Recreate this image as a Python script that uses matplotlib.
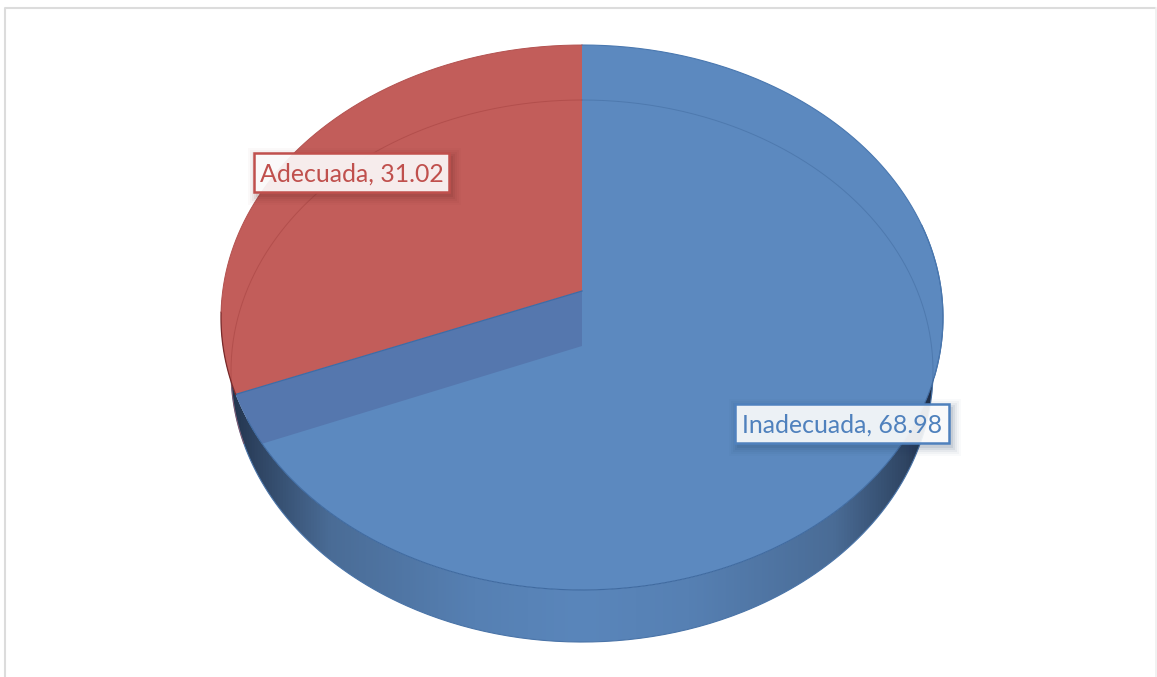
import numpy as np
import matplotlib
matplotlib.use("Agg")
import matplotlib.pyplot as plt
from matplotlib.colors import LinearSegmentedColormap
from matplotlib.patches import Polygon, Rectangle

# Pie values
categories = ["Inadecuada", "Adecuada"]
values = [68.98, 31.02]

WIDTH, HEIGHT = 1157, 677
BLUE = "#5C89BF"
RED = "#C25D5A"
WALL = "#5577AE"

fig = plt.figure(figsize=(WIDTH / 100, HEIGHT / 100), dpi=100)
ax = fig.add_axes([0, 0, 1, 1])
ax.set_xlim(0, WIDTH)
ax.set_ylim(HEIGHT, 0)
ax.axis("off")

# Outer frame (no bottom edge)
ax.plot([5, 5, 1155], [HEIGHT, 8, 8], color="#DCDCDC", lw=1.5)
ax.plot([1156, 1156], [8, HEIGHT], color="#EFEFEF", lw=1.2)


# Perspective projection of a disc; angle is clockwise from 12 o'clock
def project(angle, cy, a, b, k):
    u = np.sin(angle)
    v = np.cos(angle)
    return np.column_stack([582 + b * u / (1 + k * v), cy - a * v / (1 + k * v)])


def top_disc(angle):
    return project(angle, 291, 269.9, 359.3, 0.0972)


def low_disc(angle):
    return project(angle, 346, 268.7, 349.5, 0.0923)


circle = np.linspace(0, 2 * np.pi, 721)
split = 2 * np.pi * values[0] / sum(values)

blue_arc = np.linspace(0, split, 500)
red_arc = np.linspace(split, 2 * np.pi, 300)
top_centre = np.array([[582, 291]])
low_centre = np.array([[582, 346]])

# Side wall: horizontal shading clipped to the silhouette of both discs
front = np.linspace(np.pi / 2, 3 * np.pi / 2, 300)
side_outline = np.vstack([top_disc(front), low_disc(front[::-1])])
side_cmap = LinearSegmentedColormap.from_list(
    "side",
    [(0, "#1f2f47"), (0.05, "#2f4563"), (0.15, "#4a6c96"), (0.35, "#5680b3"), (0.5, "#5A86BB"),
     (0.65, "#5680b3"), (0.85, "#4a6c96"), (0.95, "#2f4563"), (1, "#18233a")],
)
side_img = ax.imshow(np.linspace(0, 1, 512).reshape(1, -1), cmap=side_cmap,
                     extent=[221, 943, 650, 300], aspect="auto", zorder=1)
side_img.set_clip_path(Polygon(side_outline, transform=ax.transData))
ax.set_xlim(0, WIDTH)
ax.set_ylim(HEIGHT, 0)
ax.plot(*low_disc(front).T, color="#4A74A8", lw=0.8, zorder=2)

# Top faces
blue_face = Polygon(np.vstack([top_centre, top_disc(blue_arc)]), fc=BLUE, ec="none", zorder=3)
red_face = Polygon(np.vstack([top_centre, top_disc(red_arc)]), fc=RED, ec="none", zorder=3)
ax.add_patch(blue_face)
ax.add_patch(red_face)

# Cut wall of the blue slice, seen through the front of the top face
cut = top_disc(np.array([split]))
cut_low = low_disc(np.array([split]))
wall = Polygon(np.vstack([top_centre, cut, cut_low, low_centre]), fc=WALL, ec="none", zorder=4)
ax.add_patch(wall)
wall.set_clip_path(Polygon(top_disc(circle), transform=ax.transData))

# Rim of the lower disc showing through both faces
back_blue = np.linspace(0, np.pi * 0.56, 200)
back_red = np.linspace(split + 0.02, 2 * np.pi, 200)
ax.plot(*low_disc(back_blue).T, color="#456FA3", lw=0.7, alpha=0.6, zorder=5)
ax.plot(*low_disc(back_red).T, color="#A84543", lw=0.7, alpha=0.6, zorder=5)

# Slice edges and outlines
ax.plot(*np.vstack([top_centre, cut]).T, color="#3D6CA6", lw=0.9, zorder=6)
ax.plot(*top_disc(np.linspace(0.42 * np.pi, np.pi * 1.35, 400)).T, color="#3F6AA0", lw=0.8, zorder=6)
ax.plot(*top_disc(blue_arc[blue_arc < np.pi * 0.6]).T, color="#4A78B0", lw=0.8, zorder=6)
ax.plot(*top_disc(np.linspace(split, split + 0.3, 60)).T, color="#7A2A2A", lw=0.9, zorder=6)
ax.plot(*top_disc(np.linspace(split + 0.3, 2 * np.pi, 200)).T, color="#B35250", lw=0.7, zorder=6)


# Data label with a soft drop shadow
def data_label(name, value, box, color, shadow):
    x0, y0, x1, y1 = box
    for grow, alpha in [(9, 0.025), (7, 0.035), (5, 0.05), (3, 0.07), (1, 0.09)]:
        ax.add_patch(Rectangle((x0 + 3 - grow, y0 + 4 - grow), x1 - x0 + 2 * grow, y1 - y0 + 2 * grow,
                               fc=shadow, ec="none", alpha=alpha, lw=0, zorder=7))
    ax.add_patch(Rectangle((x0, y0), x1 - x0, y1 - y0, fc=(1, 1, 1, 0.9), ec=color, lw=1.8, zorder=8))
    ax.text((x0 + x1) / 2, (y0 + y1) / 2 + 2, f"{name}, {value}", color=color, family="Lato",
            fontsize=17.9, ha="center", va="center", zorder=9)


data_label(categories[1], values[1], (254, 153, 449, 192), "#C0504D", "#5A1F1D")
data_label(categories[0], values[0], (735, 404, 949, 443), "#4F81BD", "#1F3A5F")

plt.savefig("out.png", dpi=100)
